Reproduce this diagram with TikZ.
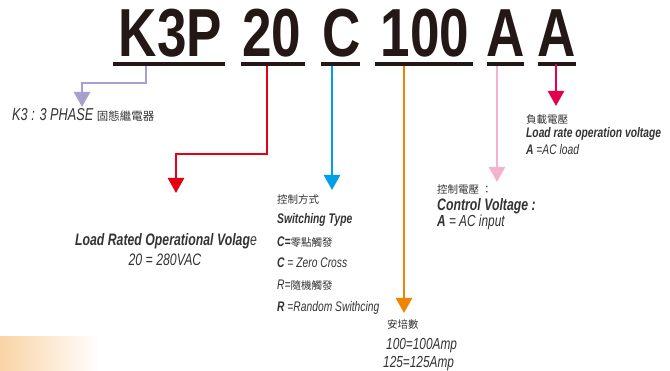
\documentclass[tikz,border=0pt]{standalone}
\usepackage{fontspec}
\usetikzlibrary{arrows.meta}
\newfontfamily\titlefont{Liberation Sans}[FakeStretch=0.78]
\newfontfamily\labfont{Liberation Sans}[FakeStretch=0.74]
\newfontfamily\cjk{Noto Sans CJK TC}
\definecolor{cpurple}{HTML}{A79FCF}
\definecolor{cred}{HTML}{E60012}
\definecolor{cblue}{HTML}{00A0E9}
\definecolor{corange}{HTML}{F08300}
\definecolor{cpink}{HTML}{F5B2CF}
\definecolor{ccrimson}{HTML}{E5004F}
\definecolor{cpeach}{HTML}{F9D3A5}
\definecolor{ctext}{HTML}{333333}
\definecolor{ctitle}{HTML}{231815}
\newcommand{\zh}[1]{{\cjk\upshape\mdseries #1}}
\begin{document}
\begin{tikzpicture}[x=1pt,y=-1pt,
  titletext/.style={anchor=base,inner sep=0pt,text=ctitle,font=\titlefont\bfseries\fontsize{68}{68}\selectfont},
  uline/.style={fill=ctitle,inner sep=0pt,minimum height=4pt},
  lab/.style={anchor=base west,inner sep=0pt,text=ctext,font=\labfont\itshape\fontsize{13.9}{15}\selectfont},
  labbig/.style={lab,font=\labfont\itshape\fontsize{16}{17}\selectfont},
  zhlab/.style={anchor=base west,inner sep=0pt,text=ctext,font=\cjk\fontsize{10.5}{12}\selectfont},
  conn/.style={line width=2.5pt,-{Triangle[width=16pt,length=15pt]}},
]
\useasboundingbox (0,0) rectangle (670,371);
\fill[white] (0,0) rectangle (670,371);
\shade[left color=cpeach,right color=white] (0,337) rectangle (100,371);

% title
\node[titletext] (t1) at (170.5,57) {K3P};
\node[titletext] (t2) at (272,57) {20};
\node[titletext] (t3) at (341.5,57) {C};
\node[titletext] (t4) at (425,57) {100};
\node[titletext] (t5) at (506,57) {A};
\node[titletext] (t6) at (557,57) {A};
\node[uline,minimum width=112pt] (u1) at (168.6,64) {};
\node[uline,minimum width=64.5pt] (u2) at (272.75,64) {};
\node[uline,minimum width=39pt] (u3) at (340.5,64) {};
\node[uline,minimum width=97.5pt] (u4) at (423.75,64) {};
\node[uline,minimum width=37.3pt] (u5) at (505.35,64) {};
\node[uline,minimum width=37.6pt] (u6) at (556.8,64) {};

% arrow ends
\coordinate (e1) at (82,107);
\coordinate (e2) at (176,193);
\coordinate (e3) at (332,190);
\coordinate (e4) at (404,313);
\coordinate (e5) at (497,182);
\coordinate (e6) at (556,106);

\draw[conn,cpurple] (146,0 |- u1.south) -- (146,83) -- (82,83) -- (e1);
\draw[conn,cred] (267,0 |- u2.south) -- (267,154) -- (176,154) -- (e2);
\draw[conn,cblue] (332,0 |- u3.south) -- (e3);
\draw[conn,corange] (404,0 |- u4.south) -- (e4);
\draw[conn,cpink] (497,0 |- u5.south) -- (e5);
\draw[conn,ccrimson] ([yshift=2pt]556,0 |- u6.south) -- (e6);

% purple label
\node[lab,font=\labfont\itshape\fontsize{17.2}{18}\selectfont] (k3) at (12,120.5) {K3 : 3 PHASE \zh{\fontsize{11.5}{12}\selectfont 固態繼電器}};

% red label
\node[anchor=base,inner sep=0pt,text=ctext,font=\labfont\itshape\fontsize{16.6}{18}\selectfont] (lr1) at (166,245.5) {\bfseries Load Rated Operational Volag\mdseries e};
\node[anchor=base,inner sep=0pt,text=ctext,font=\labfont\itshape\fontsize{16.6}{18}\selectfont] (lr2) at (165,265.5) {20 = 280VAC};

% blue label
\node[zhlab] (b1) at (277,204) {控制方式};
\node[lab] (b2) at (277,223.5) {\bfseries Switching Type};
\node[lab] (b3) at (277,246.5) {\bfseries C=\zh{\fontsize{10.5}{12}\selectfont 零點觸發}};
\node[lab] (b4) at (277,267.5) {\bfseries C\mdseries{} = Zero Cross};
\node[lab] (b5) at (277,289.5) {R=\zh{\fontsize{10.5}{12}\selectfont 隨機觸發}};
\node[lab] (b6) at (277,311.5) {\bfseries R\mdseries{} =Random Swithcing};

% orange label
\node[zhlab] (o1) at (387,329) {安培數};
\node[labbig] (o2) at (386,350) {100=100Amp};
\node[labbig] (o3) at (383,368) {125=125Amp};

% pink label
\node[zhlab] (p1) at (437,194) {控制電壓 ：};
\node[lab,font=\labfont\itshape\bfseries\fontsize{16.6}{18}\selectfont] (p2) at (437,211) {Control Voltage :};
\node[labbig] (p3) at (437,227) {\bfseries A\mdseries{} = AC input};

% crimson label
\node[zhlab] (c1) at (526,124) {負載電壓};
\node[lab] (c2) at (526,137.5) {\bfseries Load rate operation voltage};
\node[lab] (c3) at (526,154.5) {\bfseries A\mdseries{} =AC load};
\end{tikzpicture}
\end{document}
